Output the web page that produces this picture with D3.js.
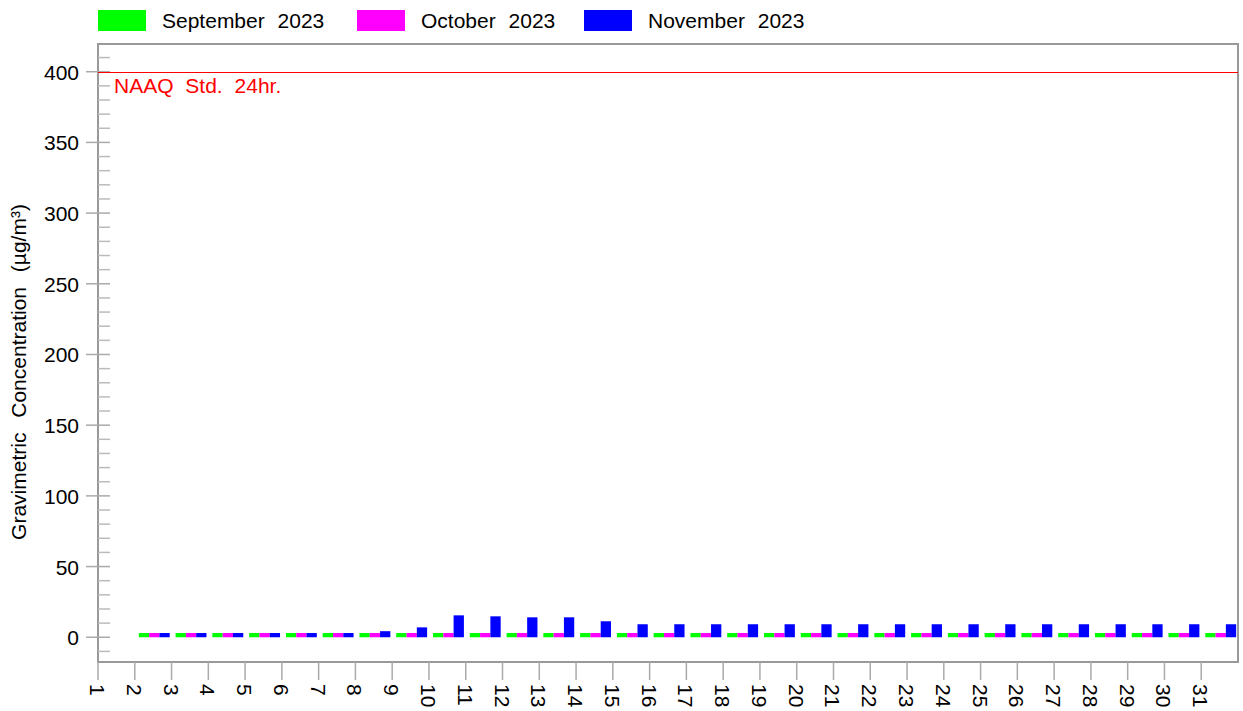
<!DOCTYPE html>
<html>
<head>
<meta charset="utf-8">
<script src="https://cdn.jsdelivr.net/npm/d3@7"></script>
<style>
  body { margin: 0; background: #fff; }
  text { font-family: "Liberation Sans", Arial, sans-serif; }
</style>
</head>
<body>
<svg width="1243" height="711"></svg>
<script>
// chart data
var days = d3.range(2, 32);
var seriesNames = ["September 2023", "October 2023", "November 2023"];
var seriesColors = ["#00ff00", "#ff00ff", "#0000ff"];
var sep2023 = [3,3,3,3,3,3,3,3,3,3,3,3,3,3,3,3,3,3,3,3,3,3,3,3,3,3,3,3,3,3];
var oct2023 = [3,3,3,3,3,3,3,3,3,3,3,3,3,3,3,3,3,3,3,3,3,3,3,3,3,3,3,3,3,3];
var nov2023 = [3,3,3,3,3,3,4.3,7,15.5,14.8,14.1,14.1,11.3,9.2,9.2,9.2,9.2,9.2,9.2,9.2,9.2,9.2,9.2,9.2,9.2,9.2,9.2,9.2,9.2,9.2];
var xTickLabels = d3.range(1, 32);
var yTicks = [0, 50, 100, 150, 200, 250, 300, 350, 400];
var naaqStd = 400;

var svg = d3.select("svg"),
    pLeft = 98, pRight = 1238, pTop = 44, pBottom = 662;

var x = d3.scaleLinear().domain([1, 32]).range([pLeft, pRight]);
var y = d3.scaleLinear().domain([-17.5, 419.6]).range([pBottom, pTop]);
var step = x(2) - x(1);
var inner = d3.scaleBand().domain(seriesNames).range([step * 0.11, step * 0.95]);

var values = [sep2023, oct2023, nov2023];

// bars
var g = svg.append("g");
seriesNames.forEach(function(name, i) {
  g.selectAll(null)
    .data(days)
    .enter().append("rect")
      .attr("x", function(d) { return x(d) + inner(name); })
      .attr("width", inner.bandwidth())
      .attr("y", function(d, j) { return y(values[i][j]); })
      .attr("height", function(d, j) { return y(0) - y(values[i][j]); })
      .attr("fill", seriesColors[i]);
});

// frame
svg.append("rect")
    .attr("x", pLeft).attr("y", pTop)
    .attr("width", pRight - pLeft).attr("height", pBottom - pTop)
    .attr("fill", "none").attr("stroke", "#999").attr("stroke-width", 2);

// minor y ticks
svg.append("g").selectAll("line")
    .data(d3.range(-10, 420, 10).filter(function(v) { return v % 50 != 0; }))
    .enter().append("line")
      .attr("x1", pLeft).attr("x2", pLeft + 12)
      .attr("y1", function(d) { return y(d); }).attr("y2", function(d) { return y(d); })
      .attr("stroke", "#bbb").attr("stroke-width", 1.5);

// major y ticks
var yAxis = svg.append("g");
yAxis.selectAll("line")
    .data(yTicks)
    .enter().append("line")
      .attr("x1", pLeft - 12).attr("x2", pLeft + 12)
      .attr("y1", function(d) { return y(d); }).attr("y2", function(d) { return y(d); })
      .attr("stroke", "#aaa").attr("stroke-width", 1.5);
yAxis.selectAll("text")
    .data(yTicks)
    .enter().append("text")
      .attr("x", pLeft - 19)
      .attr("y", function(d) { return y(d) + 8; })
      .attr("text-anchor", "end")
      .attr("font-size", 21)
      .text(function(d) { return d; });

// x ticks
var xAxis = svg.append("g");
xAxis.selectAll("line")
    .data(xTickLabels)
    .enter().append("line")
      .attr("x1", function(d) { return x(d); }).attr("x2", function(d) { return x(d); })
      .attr("y1", pBottom).attr("y2", pBottom + 18)
      .attr("stroke", "#aaa").attr("stroke-width", 1.5);
xAxis.selectAll("text")
    .data(xTickLabels)
    .enter().append("text")
      .attr("transform", function(d) { return "translate(" + (x(d) - 8) + "," + (pBottom + 22) + ") rotate(90)"; })
      .attr("font-size", 21)
      .text(function(d) { return d; });

// NAAQ line
svg.append("line")
    .attr("x1", pLeft).attr("x2", pRight)
    .attr("y1", Math.round(y(naaqStd)) + 0.5).attr("y2", Math.round(y(naaqStd)) + 0.5)
    .attr("stroke", "#ff0000").attr("stroke-width", 1);
svg.append("text")
    .attr("x", pLeft + 16).attr("y", y(naaqStd) + 21)
    .attr("fill", "#ff0000").attr("font-size", 21)
    .attr("word-spacing", 6)
    .text("NAAQ Std. 24hr.");

// y title
svg.append("text")
    .attr("transform", "translate(26,372) rotate(-90)")
    .attr("text-anchor", "middle")
    .attr("font-size", 21)
    .attr("word-spacing", 9)
    .text("Gravimetric Concentration (\u00b5g/m\u00b3)");

// legend
var legendX = [98, 357, 584];
var legend = svg.append("g").selectAll("g")
    .data(seriesNames)
    .enter().append("g")
      .attr("transform", function(d, i) { return "translate(" + legendX[i] + ",10)"; });
legend.append("rect")
    .attr("width", 48).attr("height", 21)
    .attr("fill", function(d, i) { return seriesColors[i]; });
legend.append("text")
    .attr("x", 64).attr("y", 18)
    .attr("font-size", 21)
    .attr("word-spacing", 7)
    .text(function(d) { return d; });
</script>
</body>
</html>
